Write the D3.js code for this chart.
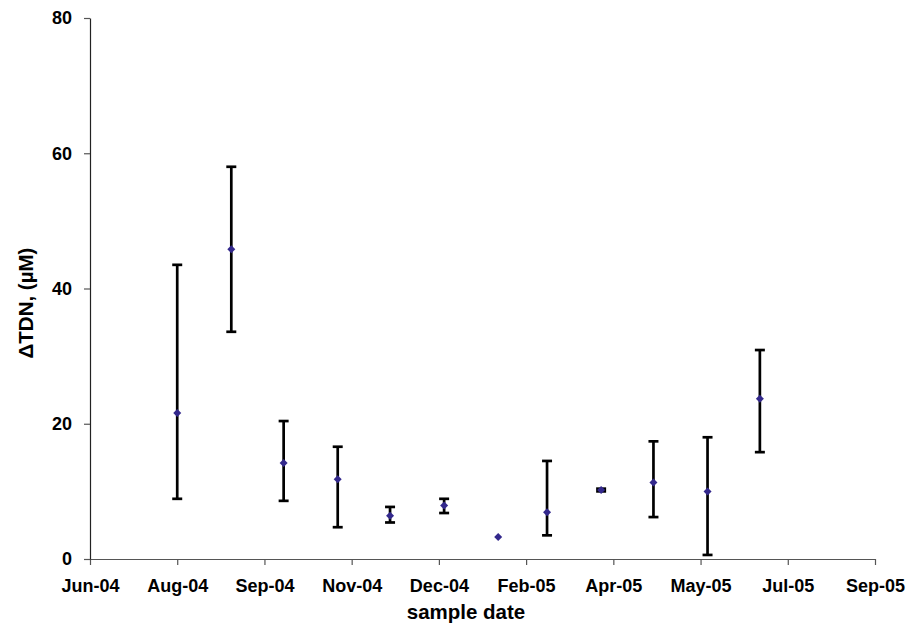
<!DOCTYPE html>
<html>
<head>
<meta charset="utf-8">
<script src="https://cdn.jsdelivr.net/npm/d3@7"></script>
<style>
	body { margin: 0; background: #fff; }
	text { font-family: "Liberation Sans", Arial, sans-serif; font-weight: bold; }
</style>
</head>
<body>
<div id="chart"></div>
<script>
// sample dates (first of each month) and mean/upper/lower of delta TDN
const sampleDates = ["2004-08-01", "2004-09-01", "2004-10-01", "2004-11-01", "2004-12-01", "2005-01-01",
	"2005-02-01", "2005-03-01", "2005-04-01", "2005-05-01", "2005-06-01", "2005-07-01"];
const meanTDN = [21.6, 45.8, 14.2, 11.8, 6.4, 7.9, 3.25, 6.9, 10.2, 11.3, 10.0, 23.7];
const upperTDN = [43.5, 58.0, 20.4, 16.6, 7.7, 8.9, null, 14.5, 10.4, 17.4, 18.0, 30.9];
const lowerTDN = [8.9, 33.6, 8.6, 4.7, 5.4, 6.8, null, 3.5, 10.0, 6.2, 0.6, 15.8];

const yTicks = [0, 20, 40, 60, 80];
// excel style date axis: start Jun 12 2004, major unit 50 days
const xStart = "2004-06-12";
const xEnd = "2005-09-05";
const xStepDays = 50;

const width = 913;
const height = 629;
const margin = { top: 18, right: 38, bottom: 70, left: 90 };

const parse = d3.timeParse("%Y-%m-%d");
const data = sampleDates.map((d, i) => ({
	date: parse(d),
	mean: meanTDN[i],
	hi: upperTDN[i],
	lo: lowerTDN[i]
}));

const svg = d3.select("#chart")
	.append("svg")
	.attr("width", width)
	.attr("height", height);

const x = d3.scaleTime()
	.domain([parse(xStart), parse(xEnd)])
	.range([margin.left, width - margin.right]);

const y = d3.scaleLinear()
	.domain([0, 80])
	.range([height - margin.bottom, margin.top]);

const xTicks = d3.timeDay.range(parse(xStart), d3.timeDay.offset(parse(xEnd), 1), xStepDays);

// x axis
const xAxis = svg.append("g")
	.attr("transform", `translate(0,${y(0)})`)
	.call(d3.axisBottom(x)
		.tickValues(xTicks)
		.tickFormat(d3.timeFormat("%b-%y"))
		.tickSize(6)
		.tickSizeOuter(0));
xAxis.select(".domain").attr("stroke", "#555").attr("stroke-width", 1.2);
xAxis.selectAll(".tick line").attr("stroke", "#555").attr("stroke-width", 1.2);
xAxis.selectAll(".tick text")
	.attr("font-size", 18)
	.attr("fill", "#000")
	.attr("y", 27)
	.attr("dy", "0.35em");

// y axis
const yAxis = svg.append("g")
	.attr("transform", `translate(${margin.left},0)`)
	.call(d3.axisLeft(y)
		.tickValues(yTicks)
		.tickSize(6)
		.tickSizeOuter(0));
yAxis.select(".domain").attr("stroke", "#222").attr("stroke-width", 1.2);
yAxis.selectAll(".tick line").attr("stroke", "#555").attr("stroke-width", 1.2);
yAxis.selectAll(".tick text")
	.attr("font-size", 18)
	.attr("fill", "#000")
	.attr("x", -18);

// axis titles
svg.append("text")
	.attr("x", 466)
	.attr("y", 619)
	.attr("text-anchor", "middle")
	.attr("font-size", 20.5)
	.text("sample date");

svg.append("text")
	.attr("transform", `translate(33,303) rotate(-90)`)
	.attr("text-anchor", "middle")
	.attr("font-size", 20.5)
	.text("ΔTDN, (µM)");

// error bars
const withBars = data.filter((d) => d.hi != null);
const bars = svg.append("g").attr("stroke", "#000").attr("stroke-width", 2.7);

bars.selectAll("line.stem")
	.data(withBars)
	.enter()
	.append("line")
	.attr("class", "stem")
	.attr("x1", (d) => x(d.date))
	.attr("x2", (d) => x(d.date))
	.attr("y1", (d) => y(d.hi))
	.attr("y2", (d) => y(d.lo));

["hi", "lo"].forEach((k) => {
	bars.selectAll(`line.cap-${k}`)
		.data(withBars)
		.enter()
		.append("line")
		.attr("class", `cap-${k}`)
		.attr("x1", (d) => x(d.date) - 5)
		.attr("x2", (d) => x(d.date) + 5)
		.attr("y1", (d) => y(d[k]))
		.attr("y2", (d) => y(d[k]));
});

// diamond markers
svg.append("g")
	.selectAll("path")
	.data(data)
	.enter()
	.append("path")
	.attr("transform", (d) => `translate(${x(d.date)},${y(d.mean)})`)
	.attr("d", "M0,-4L4,0L0,4L-4,0Z")
	.attr("fill", "#33288c");
</script>
</body>
</html>
